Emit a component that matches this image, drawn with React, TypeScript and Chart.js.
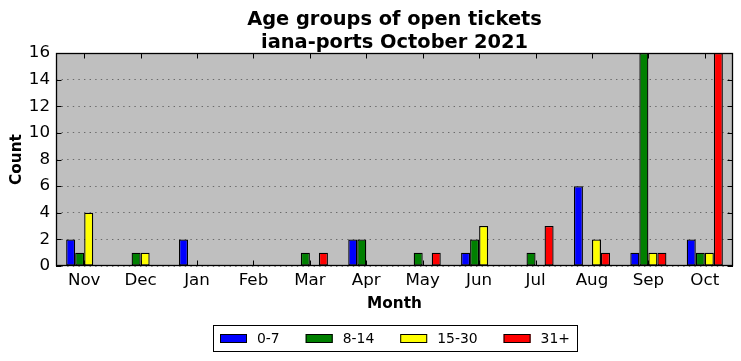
import React, { useEffect, useRef } from 'react';
import { Chart, registerables } from 'chart.js';

Chart.register(...registerables);

const months = ['Nov', 'Dec', 'Jan', 'Feb', 'Mar', 'Apr', 'May', 'Jun', 'Jul', 'Aug', 'Sep', 'Oct'];
const age0to7 = [2, 0, 2, 0, 0, 2, 0, 1, 0, 6, 1, 2];
const age8to14 = [1, 1, 0, 0, 1, 2, 1, 2, 1, 0, 16, 1];
const age15to30 = [4, 1, 0, 0, 0, 0, 0, 3, 0, 2, 1, 1];
const age31plus = [0, 0, 0, 0, 1, 0, 1, 0, 3, 1, 1, 16];
const seriesLabels = ['0-7', '8-14', '15-30', '31+'];
const seriesColors = ['#0000ff', '#008000', '#ffff00', '#ff0000'];
const titleLines = ['Age groups of open tickets', 'iana-ports October 2021'];
const xTitle = 'Month';
const yTitle = 'Count';
const yMin = 0;
const yMax = 16;
const yStep = 2;

const FONT = '"DejaVu Sans", sans-serif';

const decorPlugin = {
  id: 'decor',
  beforeDraw(chart: any) {
    const { ctx, chartArea: a } = chart;
    ctx.save();
    ctx.fillStyle = '#bfbfbf';
    ctx.fillRect(a.left, a.top, a.right - a.left, a.bottom - a.top);
    ctx.restore();
  },
  afterDatasetsDraw(chart: any) {
    const { ctx, chartArea: a } = chart;
    const xs = chart.scales.x;
    const ys = chart.scales.y;
    const tl = 5.5;
    ctx.save();
    ctx.strokeStyle = '#000';
    ctx.lineWidth = 1;
    ctx.beginPath();
    xs.ticks.forEach((_: any, i: number) => {
      const px = Math.round(xs.getPixelForTick(i)) + 0.5;
      ctx.moveTo(px, a.bottom);
      ctx.lineTo(px, a.bottom - tl);
      ctx.moveTo(px, a.top);
      ctx.lineTo(px, a.top + tl);
    });
    ys.ticks.forEach((_: any, i: number) => {
      const py = Math.round(ys.getPixelForTick(i)) + 0.5;
      ctx.moveTo(a.left, py);
      ctx.lineTo(a.left + tl, py);
      ctx.moveTo(a.right, py);
      ctx.lineTo(a.right - tl, py);
    });
    ctx.stroke();
    ctx.lineWidth = 1.3;
    ctx.strokeRect(a.left + 0.5, a.top + 0.5, a.right - a.left - 1, a.bottom - a.top - 1);
    ctx.restore();
  },
  afterDraw(chart: any) {
    const { ctx, chartArea: a } = chart;
    const cx = (a.left + a.right) / 2;
    ctx.save();
    ctx.fillStyle = '#000';
    ctx.textAlign = 'center';
    ctx.textBaseline = 'alphabetic';
    ctx.font = `bold 19.4px ${FONT}`;
    ctx.fillText(titleLines[0], cx, 25);
    ctx.fillText(titleLines[1], cx, 47.5);

    ctx.font = `13.9px ${FONT}`;
    const pad = 7;
    const rw = 27;
    const rh = 9;
    const gap = 10;
    const colsp = 26;
    const widths = seriesLabels.map((l) => ctx.measureText(l).width);
    const total = Math.round(
      pad * 2 + seriesLabels.length * (rw + gap) + widths.reduce((s, w) => s + w, 0) + colsp * (seriesLabels.length - 1)
    );
    const bx = Math.round(cx - total / 2);
    const by = 325;
    const bh = 26;
    ctx.fillStyle = '#fff';
    ctx.fillRect(bx, by, total, bh);
    ctx.strokeStyle = '#000';
    ctx.lineWidth = 1;
    ctx.strokeRect(bx + 0.5, by + 0.5, total, bh);
    let x = bx + pad;
    ctx.textAlign = 'left';
    seriesLabels.forEach((l, i) => {
      ctx.fillStyle = seriesColors[i];
      ctx.fillRect(x, 334, rw, rh);
      ctx.strokeStyle = '#000';
      ctx.strokeRect(x + 0.5, 334.5, rw - 1, rh - 1);
      ctx.fillStyle = '#000';
      ctx.fillText(l, x + rw + gap, 343);
      x += rw + gap + widths[i] + colsp;
    });
    ctx.restore();
  },
};

export default function App() {
  const ref = useRef<HTMLCanvasElement | null>(null);
  useEffect(() => {
    document.body.style.margin = '0';
    if (!ref.current) return;
    const values = [age0to7, age8to14, age15to30, age31plus];
    const chart = new Chart(ref.current, {
      type: 'bar',
      data: {
        labels: months,
        datasets: seriesLabels.map((label, i) => ({
          label,
          data: values[i],
          backgroundColor: seriesColors[i],
          borderColor: '#000',
          borderWidth: 1.3,
          borderSkipped: false,
          categoryPercentage: 0.64,
          barPercentage: 1.0,
        })),
      },
      options: {
        responsive: false,
        animation: false,
        devicePixelRatio: 1,
        layout: { padding: { top: 53, right: 8, left: 0, bottom: 0 } },
        plugins: {
          legend: { display: false },
          title: { display: false },
          tooltip: { enabled: false },
        },
        scales: {
          x: {
            grid: { display: false, drawTicks: false },
            border: { display: false },
            ticks: {
              color: '#000',
              padding: 5,
              maxRotation: 0,
              autoSkip: false,
              font: { family: FONT, size: 16.7 },
            },
            title: {
              display: true,
              text: xTitle,
              color: '#000',
              font: { family: FONT, size: 15.3, weight: 'bold' },
              padding: { top: 0, bottom: 48 },
            },
            afterFit(scale: any) {
              scale.height = 95;
            },
          },
          y: {
            min: yMin,
            max: yMax,
            grid: { display: true, drawTicks: false, color: 'rgba(0,0,0,0.45)', lineWidth: 1 },
            border: { display: false, dash: [1.4, 4.2] },
            ticks: {
              stepSize: yStep,
              color: '#000',
              padding: 6,
              font: { family: FONT, size: 16.7 },
            },
            title: {
              display: true,
              text: yTitle,
              color: '#000',
              font: { family: FONT, size: 15.3, weight: 'bold' },
              padding: { top: 8, bottom: 0 },
            },
            afterFit(scale: any) {
              scale.width = 56;
            },
          },
        },
      },
      plugins: [decorPlugin],
    } as any);
    return () => chart.destroy();
  }, []);
  return (
    <div style={{ width: 741, height: 361 }}>
      <canvas ref={ref} width={741} height={361} style={{ display: 'block' }} />
    </div>
  );
}
